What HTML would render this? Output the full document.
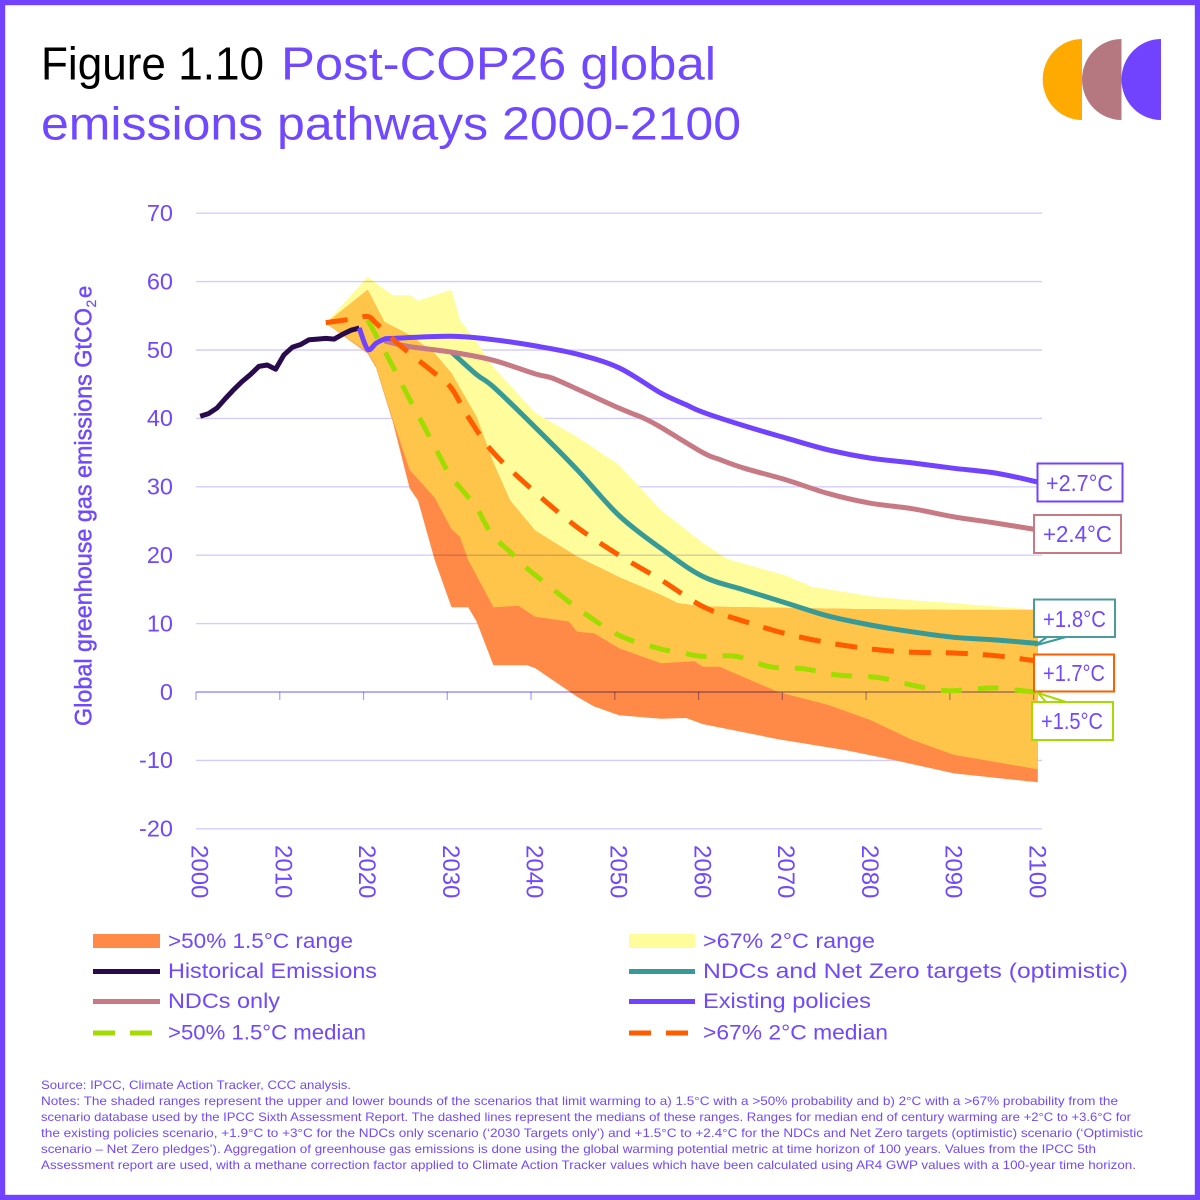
<!DOCTYPE html>
<html lang="en">
<head>
<meta charset="utf-8">
<title>Figure 1.10 Post-COP26 global emissions pathways 2000-2100</title>
<style>
html,body{margin:0;padding:0;background:#fff}
svg{display:block}
text{font-family:"Liberation Sans",sans-serif;fill:#7048FF}
</style>
</head>
<body>
<svg id="chart" xmlns="http://www.w3.org/2000/svg" width="1200" height="1200" viewBox="0 0 1200 1200">
  <rect x="0" y="0" width="1200" height="1200" fill="#fff"/>
  <rect x="2.6" y="2.6" width="1194.8" height="1194.8" fill="none" stroke="#7143FF" stroke-width="5.2"/>

  <text x="41" y="79.5" font-size="46.5" style="fill:#000" textLength="223" lengthAdjust="spacingAndGlyphs">Figure 1.10</text>
  <text x="281" y="79.5" font-size="46.5" textLength="435" lengthAdjust="spacingAndGlyphs">Post-COP26 global</text>
  <text x="41" y="139.5" font-size="46.5" textLength="700" lengthAdjust="spacingAndGlyphs">emissions pathways 2000-2100</text>

  <g>
    <path d="M1082 39A39.3 40.5 0 0 0 1082 120Z" fill="#FFAA00"/>
    <path d="M1121.5 39A39.5 40.5 0 0 0 1121.5 120Z" fill="#B57880"/>
    <path d="M1161 39A39.5 40.5 0 0 0 1161 120Z" fill="#7143FF"/>
  </g>

  <g font-size="24" stroke="#7048FF" stroke-width="0.45">
    <text transform="translate(91.3,726) rotate(-90)" textLength="418" lengthAdjust="spacingAndGlyphs">Global greenhouse gas emissions GtCO</text>
    <text transform="translate(96,307.5) rotate(-90)" font-size="14" stroke-width="0.2">2</text>
    <text transform="translate(91.3,298) rotate(-90)" font-size="22">e</text>
  </g>

  <g id="gridUnder"></g>
  <g id="areas"></g>
  <g id="grid"></g>
  <g id="lines"></g>
  <g id="yticks"></g>
  <g id="xticks"></g>

  <g>
    <rect x="1037.5" y="463.5" width="85" height="38" fill="#fff" stroke="#7143FF" stroke-width="2"/>
    <text x="1046" y="491" font-size="23" textLength="67" lengthAdjust="spacingAndGlyphs">+2.7°C</text>
    <rect x="1034" y="515" width="87" height="38" fill="#fff" stroke="#C87A84" stroke-width="2"/>
    <text x="1043" y="542" font-size="23" textLength="69" lengthAdjust="spacingAndGlyphs">+2.4°C</text>
    <polygon points="1035,645.5 1047,637 1066,637" fill="#fff" stroke="#379A97" stroke-width="2"/>
    <rect x="1034" y="599.5" width="81" height="37.5" fill="#fff" stroke="#4D9A9A" stroke-width="2"/>
    <text x="1043" y="627" font-size="23" textLength="63" lengthAdjust="spacingAndGlyphs">+1.8°C</text>
    <rect x="1034" y="654.5" width="80" height="37" fill="#fff" stroke="#FF5C00" stroke-width="2"/>
    <text x="1043" y="681" font-size="23" textLength="62" lengthAdjust="spacingAndGlyphs">+1.7°C</text>
    <polygon points="1038,693 1046,702 1066,702" fill="#fff" stroke="#A6DB00" stroke-width="2"/>
    <rect x="1032" y="702" width="81" height="38" fill="#fff" stroke="#A6DB00" stroke-width="2"/>
    <text x="1041" y="729" font-size="23" textLength="62" lengthAdjust="spacingAndGlyphs">+1.5°C</text>
  </g>

  <g>
    <g>
      <rect x="93" y="934" width="67" height="14" fill="#FF8A47"/>
      <text x="168" y="948" font-size="21.5" textLength="185" lengthAdjust="spacingAndGlyphs">&gt;50% 1.5°C range</text>
    </g>
    <g>
      <rect x="629" y="934" width="66" height="14" fill="#FFFD9B"/>
      <text x="703" y="948" font-size="21.5" textLength="172" lengthAdjust="spacingAndGlyphs">&gt;67% 2°C range</text>
    </g>
    <g>
      <rect x="93" y="969" width="67" height="5" fill="#2A0A4F"/>
      <text x="168" y="978" font-size="21.5" textLength="209" lengthAdjust="spacingAndGlyphs">Historical Emissions</text>
    </g>
    <g>
      <rect x="629" y="969" width="66" height="5" fill="#379A97"/>
      <text x="703" y="978" font-size="21.5" textLength="425" lengthAdjust="spacingAndGlyphs">NDCs and Net Zero targets (optimistic)</text>
    </g>
    <g>
      <rect x="93" y="999" width="67" height="5" fill="#C87A84"/>
      <text x="168" y="1008" font-size="21.5" textLength="112" lengthAdjust="spacingAndGlyphs">NDCs only</text>
    </g>
    <g>
      <rect x="629" y="999" width="66" height="5" fill="#7143FF"/>
      <text x="703" y="1008" font-size="21.5" textLength="168" lengthAdjust="spacingAndGlyphs">Existing policies</text>
    </g>
    <g>
      <line x1="93" y1="1033" x2="160" y2="1033" stroke="#A6DB00" stroke-width="5" stroke-dasharray="22 15"/>
      <text x="168" y="1039.5" font-size="21.5" textLength="198" lengthAdjust="spacingAndGlyphs">&gt;50% 1.5°C median</text>
    </g>
    <g>
      <line x1="629" y1="1033" x2="695" y2="1033" stroke="#FF5C00" stroke-width="5" stroke-dasharray="22 15"/>
      <text x="703" y="1039.5" font-size="21.5" textLength="185" lengthAdjust="spacingAndGlyphs">&gt;67% 2°C median</text>
    </g>
  </g>

  <g font-size="12">
    <text x="41" y="1089" textLength="310" lengthAdjust="spacingAndGlyphs">Source: IPCC, Climate Action Tracker, CCC analysis.</text>
    <text x="41" y="1105" textLength="1077" lengthAdjust="spacingAndGlyphs">Notes: The shaded ranges represent the upper and lower bounds of the scenarios that limit warming to a) 1.5°C with a &gt;50% probability and b) 2°C with a &gt;67% probability from the</text>
    <text x="41" y="1121" textLength="1090" lengthAdjust="spacingAndGlyphs">scenario database used by the IPCC Sixth Assessment Report. The dashed lines represent the medians of these ranges. Ranges for median end of century warming are +2°C to +3.6°C for</text>
    <text x="41" y="1137" textLength="1102" lengthAdjust="spacingAndGlyphs">the existing policies scenario, +1.9°C to +3°C for the NDCs only scenario (‘2030 Targets only’) and +1.5°C to +2.4°C for the NDCs and Net Zero targets (optimistic) scenario (‘Optimistic</text>
    <text x="41" y="1153" textLength="1055" lengthAdjust="spacingAndGlyphs">scenario – Net Zero pledges’). Aggregation of greenhouse gas emissions is done using the global warming potential metric at time horizon of 100 years. Values from the IPCC 5th</text>
    <text x="41" y="1169" textLength="1095" lengthAdjust="spacingAndGlyphs">Assessment report are used, with a methane correction factor applied to Climate Action Tracker values which have been calculated using AR4 GWP values with a 100-year time horizon.</text>
  </g>
</svg>

<script>
// ---- chart data ----
const yTickValues = [70, 60, 50, 40, 30, 20, 10, 0, -10, -20];
const yTicksVisibleThroughAreas = [60, 20, 0];
const xTickYears = [2000, 2010, 2020, 2030, 2040, 2050, 2060, 2070, 2080, 2090, 2100];

const twoDegUpperYears = [2015, 2020, 2023, 2025, 2026, 2030, 2031, 2033, 2035, 2040, 2045, 2050, 2055, 2060, 2063, 2070, 2073, 2075, 2080, 2085, 2090, 2095, 2100];
const twoDegUpperValues = [53.9, 60.7, 58.0, 58.0, 57.2, 58.8, 54.4, 51.2, 47.5, 40.8, 37.3, 33.2, 26.6, 21.8, 19.4, 17.0, 15.4, 15.0, 14.0, 13.4, 13.0, 12.5, 12.0];

const onePointFiveUpperYears = [2015, 2020, 2022, 2025, 2028, 2030, 2033, 2035, 2037, 2040, 2045, 2050, 2055, 2057, 2060, 2070, 2080, 2090, 2100];
const onePointFiveUpperValues = [53.9, 58.8, 54.1, 52.2, 49.5, 46.6, 40.2, 33.5, 28.0, 23.6, 19.8, 16.8, 14.2, 13.0, 12.5, 12.3, 12.1, 12.0, 12.0];

const twoDegLowerYears = [2015, 2020, 2021, 2023, 2025, 2028, 2030, 2031, 2032, 2035, 2038, 2040, 2044, 2045, 2047, 2050, 2055, 2059, 2060, 2062, 2069, 2075, 2080, 2085, 2090, 2100];
const twoDegLowerValues = [53.9, 49.7, 47.6, 39.8, 32.5, 28.4, 23.8, 22.7, 19.3, 12.4, 12.6, 11.0, 10.3, 8.8, 8.6, 6.4, 4.2, 4.5, 3.7, 3.7, 0.0, -1.9, -4.1, -7.0, -9.2, -11.3];

const onePointFiveLowerYears = [2015, 2020, 2021, 2023, 2025, 2026, 2028, 2030, 2032, 2033, 2035, 2039, 2040, 2045, 2047, 2050, 2055, 2058, 2060, 2069, 2077, 2083, 2090, 2100];
const onePointFiveLowerValues = [53.9, 49.5, 47.4, 39.5, 29.8, 28.0, 19.3, 12.4, 12.4, 10.3, 3.9, 3.9, 3.5, -0.7, -2.1, -3.4, -3.9, -3.8, -4.7, -6.9, -8.5, -10.0, -11.9, -13.2];

const historicalYears = [2000, 2001, 2002, 2003, 2004, 2005, 2006, 2007, 2008, 2009, 2010, 2011, 2012, 2013, 2014, 2015, 2016, 2017, 2018, 2019];
const historicalValues = [40.3, 40.7, 41.5, 42.9, 44.2, 45.4, 46.4, 47.6, 47.8, 47.2, 49.3, 50.4, 50.8, 51.5, 51.6, 51.7, 51.6, 52.3, 52.9, 53.2];

const netZeroYears = [2030, 2033, 2035, 2040, 2045, 2050, 2055, 2060, 2065, 2070, 2075, 2080, 2085, 2090, 2095, 2100];
const netZeroValues = [49.7, 46.4, 44.6, 38.7, 32.5, 25.8, 21.0, 16.9, 14.9, 13.0, 11.1, 9.8, 8.8, 8.0, 7.6, 7.1];

const ndcsOnlyYears = [2022, 2025, 2030, 2035, 2040, 2042, 2045, 2050, 2053, 2055, 2060, 2062, 2065, 2070, 2075, 2080, 2085, 2090, 2095, 2100];
const ndcsOnlyValues = [51.3, 50.5, 49.7, 48.5, 46.5, 45.9, 44.3, 41.5, 40.0, 38.7, 35.0, 34.0, 32.7, 31.0, 29.0, 27.6, 26.8, 25.6, 24.7, 23.7];

const existingYears = [2019, 2020, 2021, 2022, 2023, 2030, 2035, 2040, 2045, 2050, 2055, 2058, 2060, 2065, 2070, 2075, 2080, 2085, 2090, 2095, 2100];
const existingValues = [53.2, 50.1, 51.0, 51.6, 51.7, 52.0, 51.5, 50.6, 49.4, 47.4, 43.7, 42.0, 40.9, 38.9, 37.1, 35.4, 34.2, 33.5, 32.7, 32.0, 30.7];

const onePointFiveMedianYears = [2020, 2023, 2025, 2027, 2029, 2030, 2032, 2033, 2034, 2035, 2037, 2038, 2040, 2045, 2050, 2055, 2058, 2060, 2064, 2068, 2072, 2076, 2081, 2085, 2088, 2090, 2093, 2095, 2098, 2100];
const onePointFiveMedianValues = [54.4, 47.6, 42.8, 38.2, 33.5, 31.4, 28.5, 27.0, 24.7, 22.7, 20.5, 19.2, 17.1, 12.3, 8.3, 6.3, 5.6, 5.2, 5.2, 3.7, 3.4, 2.5, 2.1, 1.0, 0.3, 0.2, 0.5, 0.6, 0.2, 0.0];

const twoDegMedianYears = [2015, 2018, 2020, 2021, 2023, 2025, 2028, 2030, 2032, 2035, 2040, 2045, 2050, 2055, 2060, 2065, 2070, 2075, 2080, 2085, 2090, 2095, 2100];
const twoDegMedianValues = [54.0, 54.5, 54.9, 53.9, 51.6, 49.5, 46.6, 44.4, 40.2, 35.0, 29.2, 24.1, 20.0, 16.4, 12.5, 10.3, 8.5, 7.2, 6.3, 5.8, 5.7, 5.3, 4.5];

// ---- axis functions ----
const categoryWidth = 846 / 101;
function xScale(year) { return 196 + categoryWidth * (year - 2000 + 0.5); }
function yScale(value) { return 692 - 6.84 * value; }
function tickX(year) { return 196 + categoryWidth * (year - 2000); }

const NS = 'http://www.w3.org/2000/svg';
function make(tag, parentId) {
  const el = document.createElementNS(NS, tag);
  document.getElementById(parentId).appendChild(el);
  return el;
}
function pts(years, values) {
  return years.map(function (y, i) { return xScale(y).toFixed(1) + ',' + yScale(values[i]).toFixed(1); });
}
function bandPoints(upY, upV, loY, loV) {
  return pts(upY, upV).concat(pts(loY, loV).reverse()).join(' ');
}
function smoothPath(years, values) {
  const p = years.map(function (y, i) { return [xScale(y), yScale(values[i])]; });
  let d = 'M' + p[0][0].toFixed(1) + ' ' + p[0][1].toFixed(1);
  for (let i = 0; i < p.length - 1; i++) {
    const a = p[Math.max(i - 1, 0)], b = p[i], c = p[i + 1], e = p[Math.min(i + 2, p.length - 1)];
    const c1x = b[0] + (c[0] - a[0]) / 6, c1y = b[1] + (c[1] - a[1]) / 6;
    const c2x = c[0] - (e[0] - b[0]) / 6, c2y = c[1] - (e[1] - b[1]) / 6;
    d += 'C' + c1x.toFixed(1) + ' ' + c1y.toFixed(1) + ' ' + c2x.toFixed(1) + ' ' + c2y.toFixed(1) + ' ' + c[0].toFixed(1) + ' ' + c[1].toFixed(1);
  }
  return d;
}

// ---- areas ----
const yellowBand = make('polygon', 'areas');


yellowBand.setAttribute('fill', '#FFFD9B');
yellowBand.setAttribute('points', bandPoints(twoDegUpperYears, twoDegUpperValues, twoDegLowerYears, twoDegLowerValues));

const orangeBand = make('polygon', 'areas');


orangeBand.setAttribute('fill', '#FF8A47');
orangeBand.setAttribute('points', bandPoints(onePointFiveUpperYears, onePointFiveUpperValues, onePointFiveLowerYears, onePointFiveLowerValues));

const overlapBand = make('polygon', 'areas');


overlapBand.setAttribute('fill', '#FFC54B');
overlapBand.setAttribute('points', bandPoints(onePointFiveUpperYears, onePointFiveUpperValues, twoDegLowerYears, twoDegLowerValues));

// ---- grid, axis, ticks ----
yTickValues.forEach(function (v) {
  const onTop = yTicksVisibleThroughAreas.indexOf(v) >= 0;
  const g = make('line', onTop ? 'grid' : 'gridUnder');
  
  
  g.setAttribute('x1', 196);
  g.setAttribute('x2', 1042);
  g.setAttribute('y1', yScale(v));
  g.setAttribute('y2', yScale(v));
  g.setAttribute('stroke', v === 0 ? '#B8ACFF' : '#D3CDFF');
  g.setAttribute('stroke-width', v === 0 ? 2 : 1.4);
  if (onTop) g.style.mixBlendMode = 'multiply';

  const t = make('text', 'yticks');
  
  
  t.setAttribute('x', 173);
  t.setAttribute('y', yScale(v) + 7.8);
  t.setAttribute('text-anchor', 'end');
  t.setAttribute('font-size', 23.5);
  t.textContent = String(v);
});

xTickYears.forEach(function (yr) {
  const k = make('line', 'grid');
  
  
  k.setAttribute('x1', tickX(yr));
  k.setAttribute('x2', tickX(yr));
  k.setAttribute('y1', 692);
  k.setAttribute('y2', 700);
  k.setAttribute('stroke', '#A99BFF');
  k.setAttribute('stroke-width', 1.2);
  k.style.mixBlendMode = 'multiply';

  const t = make('text', 'xticks');
  
  
  t.setAttribute('transform', 'translate(' + (xScale(yr) - 8.5) + ',845) rotate(90)');
  t.setAttribute('font-size', 24);
  t.textContent = String(yr);
});

// ---- lines ----
function drawLine(name, years, values, color, dash, smooth) {
  const p = make('path', 'lines');
  
  
  p.setAttribute('d', smooth ? smoothPath(years, values) : 'M' + pts(years, values).join('L'));
  p.setAttribute('fill', 'none');
  p.setAttribute('stroke', color);
  p.setAttribute('stroke-width', 5);
  p.setAttribute('stroke-linejoin', 'round');
  if (dash) p.setAttribute('stroke-dasharray', dash);
  return p;
}
drawLine('historical-emissions-line', historicalYears, historicalValues, '#2A0A4F', null, false);
drawLine('net-zero-targets-line', netZeroYears, netZeroValues, '#379A97', null, true);
drawLine('one-point-five-median-line', onePointFiveMedianYears, onePointFiveMedianValues, '#A0DC00', '21 16', true);
drawLine('ndcs-only-line', ndcsOnlyYears, ndcsOnlyValues, '#C87A84', null, true);
drawLine('existing-policies-line', existingYears, existingValues, '#7143FF', null, true);
drawLine('two-degree-median-line', twoDegMedianYears, twoDegMedianValues, '#FF5C00', '22 15', true);
</script>
</body>
</html>
